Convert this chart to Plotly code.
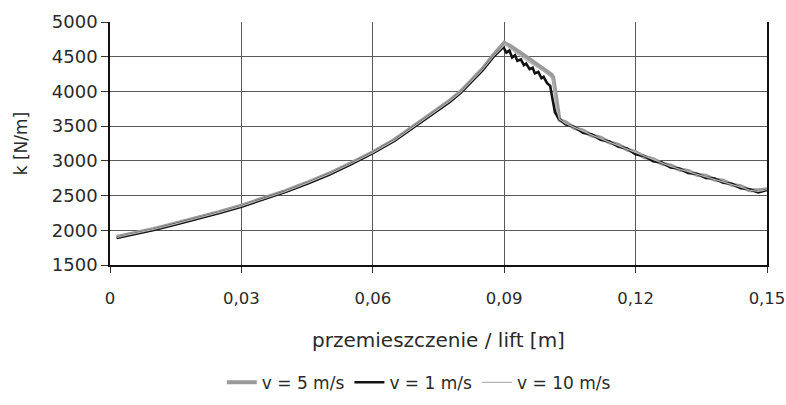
import plotly.graph_objects as go

# ---- data ----
x_rise = [0.0015, 0.005, 0.010, 0.015, 0.020, 0.025, 0.030, 0.035, 0.040, 0.045,
          0.050, 0.055, 0.060, 0.065, 0.070, 0.075, 0.0775, 0.080, 0.0825, 0.085]
v5_rise = [1905, 1950, 2020, 2100, 2180, 2265, 2355, 2455, 2565, 2685,
           2815, 2965, 3125, 3305, 3530, 3745, 3865, 3995, 4150, 4320]
v1_rise = [1890, 1935, 2005, 2085, 2165, 2250, 2340, 2440, 2550, 2670,
           2800, 2950, 3110, 3290, 3510, 3725, 3845, 3975, 4130, 4300]
v10_rise = [1898, 1943, 2012, 2092, 2172, 2258, 2348, 2448, 2558, 2678,
            2808, 2958, 3118, 3298, 3520, 3735, 3855, 3985, 4140, 4310]

x_peak_v5 = [0.0875, 0.0900, 0.0915, 0.0930, 0.0950, 0.0970, 0.0990, 0.1008, 0.1012, 0.1018, 0.1026]
y_peak_v5 = [4520, 4700, 4650, 4590, 4500, 4410, 4320, 4240, 4200, 3900, 3590]

x_peak_v1 = [0.0875, 0.0898, 0.0905, 0.0912, 0.0918, 0.0925, 0.0930, 0.0938, 0.0945, 0.0950,
             0.0958, 0.0965, 0.0970, 0.0978, 0.0985, 0.0990, 0.0998, 0.1005, 0.1010, 0.1016, 0.1024]
y_peak_v1 = [4495, 4640, 4560, 4590, 4490, 4520, 4440, 4460, 4380, 4400,
             4320, 4340, 4260, 4280, 4190, 4210, 4120, 4080, 3900, 3700, 3610]

x_peak_v10 = [0.0875, 0.0902, 0.0915, 0.0930, 0.0950, 0.0970, 0.0990, 0.1006, 0.1012, 0.1020, 0.1026]
y_peak_v10 = [4505, 4680, 4610, 4540, 4450, 4370, 4290, 4210, 4150, 3750, 3600]

x_tail = [0.104, 0.106, 0.108, 0.110, 0.112, 0.114, 0.116, 0.118, 0.120, 0.122, 0.124, 0.126,
          0.128, 0.130, 0.132, 0.134, 0.136, 0.138, 0.140, 0.142, 0.144, 0.146, 0.148, 0.150]
v5_tail = [3555, 3475, 3435, 3365, 3335, 3265, 3235, 3165, 3125, 3055, 3025, 2960,
           2935, 2875, 2855, 2800, 2785, 2730, 2715, 2655, 2635, 2575, 2575, 2590]
v1_tail = [3525, 3490, 3405, 3380, 3305, 3280, 3205, 3180, 3095, 3070, 2995, 2975,
           2905, 2890, 2825, 2815, 2755, 2745, 2685, 2670, 2605, 2590, 2545, 2580]
v10_tail = [3540, 3480, 3420, 3370, 3320, 3270, 3220, 3170, 3110, 3060, 3010, 2965,
            2920, 2880, 2840, 2805, 2770, 2735, 2700, 2660, 2620, 2580, 2560, 2585]

series_names = ["v = 5 m/s", "v = 1 m/s", "v = 10 m/s"]
x_ticks = [0, 0.03, 0.06, 0.09, 0.12, 0.15]
x_tick_labels = ["0", "0,03", "0,06", "0,09", "0,12", "0,15"]
y_ticks = [1500, 2000, 2500, 3000, 3500, 4000, 4500, 5000]

FONT = "'DejaVu Sans', Verdana, sans-serif"

fig = go.Figure()
fig.add_trace(go.Scatter(x=x_rise + x_peak_v5 + x_tail, y=v5_rise + y_peak_v5 + v5_tail,
                         mode="lines", name=series_names[0],
                         line=dict(color="#9a9a9a", width=4)))
fig.add_trace(go.Scatter(x=x_rise + x_peak_v1 + x_tail, y=v1_rise + y_peak_v1 + v1_tail,
                         mode="lines", name=series_names[1],
                         line=dict(color="#111111", width=2.6)))
fig.add_trace(go.Scatter(x=x_rise + x_peak_v10 + x_tail, y=v10_rise + y_peak_v10 + v10_tail,
                         mode="lines", name=series_names[2],
                         line=dict(color="#b4b4b4", width=1.3)))

fig.update_layout(
    width=786, height=405,
    margin=dict(l=110, r=19, t=22, b=140, autoexpand=False),
    paper_bgcolor="white", plot_bgcolor="white",
    font=dict(family=FONT, size=17, color="#2a2a2a"),
    showlegend=True,
    legend=dict(orientation="h", xref="paper", x=0.47, xanchor="center",
                yref="container", y=0.055, yanchor="middle",
                font=dict(size=17), traceorder="normal"),
    xaxis=dict(range=[0, 0.15], tickvals=x_ticks, ticktext=x_tick_labels,
               automargin=False,
               showgrid=True, gridcolor="#5a5a5a", gridwidth=1,
               showline=True, linecolor="#111111", linewidth=1.5,
               ticks="outside", ticklen=6, tickcolor="#333333",
               tickfont=dict(size=16.5), ticklabeloverflow="allow",
               ticklabelstandoff=11, zeroline=False,
               title=dict(text="przemieszczenie / lift [m]", standoff=26,
                          font=dict(size=20))),
    yaxis=dict(range=[1500, 5000], tickvals=y_ticks,
               automargin=False,
               showgrid=True, gridcolor="#5a5a5a", gridwidth=1,
               showline=True, linecolor="#111111", linewidth=1.5, mirror=True,
               ticks="outside", ticklen=7, tickcolor="#333333", zeroline=False,
               tickfont=dict(size=18),
               title=dict(text="k [N/m]", standoff=20, font=dict(size=17))),
)

fig.write_html("out.html")
